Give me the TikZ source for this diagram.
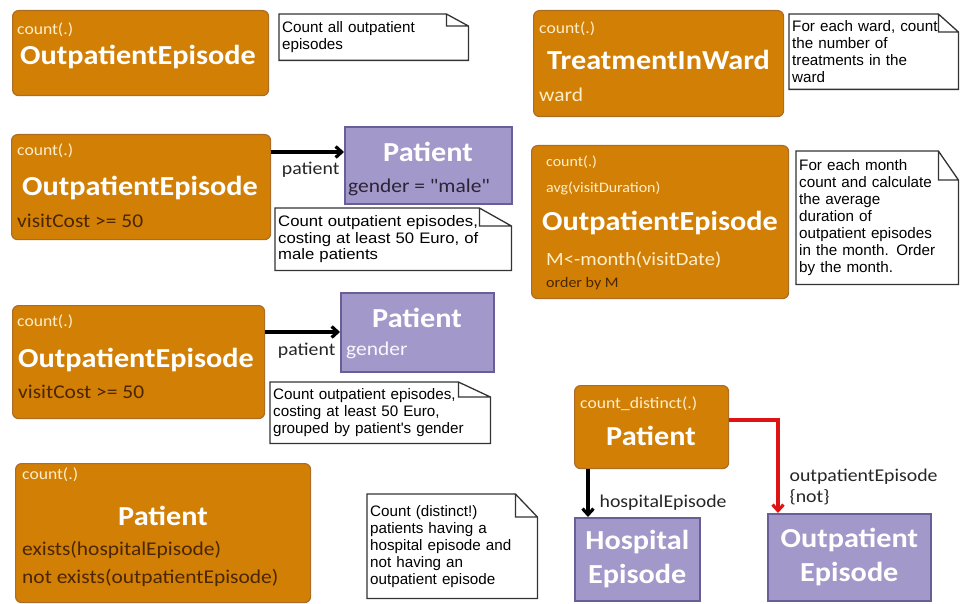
\documentclass[tikz,border=0pt]{standalone}
\usepackage{fontspec}
\usetikzlibrary{arrows.meta,positioning}
\newfontfamily\boxfont[FakeStretch=1.1]{Carlito}
\newfontfamily\notefont{Liberation Sans}
\newfontfamily\notefontwide[FakeStretch=1.1]{Liberation Sans}
\definecolor{qfill}{RGB}{210,127,6}
\definecolor{qline}{RGB}{172,108,38}
\definecolor{qhead}{RGB}{255,238,200}
\definecolor{qtext}{RGB}{75,38,0}
\definecolor{cfill}{RGB}{162,153,202}
\definecolor{cline}{RGB}{104,94,152}
\definecolor{ctext}{RGB}{45,35,55}
\definecolor{negred}{RGB}{222,20,20}
\tikzset{
  qbox/.style={draw=qline, fill=qfill, line width=1.2pt, rounded corners=6pt, anchor=north west, inner sep=0pt},
  cbox/.style={draw=cline, fill=cfill, line width=1.6pt, anchor=north west, inner sep=0pt, align=center, text=white, font=\boxfont\bfseries\fontsize{27.5}{34}\selectfont},
  hdr/.style={anchor=base west, inner sep=0pt, text=qhead, font=\boxfont\fontsize{16}{19}\selectfont},
  ttl/.style={anchor=base west, inner sep=0pt, text=white, font=\boxfont\bfseries\fontsize{27.5}{33}\selectfont},
  attr/.style={anchor=base west, inner sep=0pt, text=qtext, font=\boxfont\fontsize{19.5}{23}\selectfont},
  role/.style={inner sep=0pt, text=black!85, font=\boxfont\fontsize{18}{21}\selectfont},
  note/.style={anchor=north west, inner xsep=3pt, inner ysep=0pt, align=left, font=\notefont\fontsize{15.2}{17}\selectfont},
  notebox/.style={draw=black!80, line width=1.3pt},
  assoc/.style={line width=3.2pt, -{Straight Barb[length=6pt,width=11pt]}}
}
\begin{document}
\begin{tikzpicture}[x=1pt,y=-1pt]
  \useasboundingbox (0,0) rectangle (968,604);

  % Consulta 1: todos los episodios
  \node[qbox, minimum width=256pt, minimum height=85pt] (q1) at (12,10) {};
  \node[hdr] (q1h) at (17,35) {count(.)};
  \node[ttl] (q1t) at (20,65) {OutpatientEpisode};
  \node[note, text width=183pt, minimum height=46pt] (n1) at (279,14) {Count all outpatient\\episodes};

  % Consulta 2: por sala
  \node[qbox, minimum width=250pt, minimum height=106pt] (q2) at (533,10) {};
  \node[hdr] (q2h) at (539,34) {count(.)};
  \node[ttl] (q2t) at (547,70) {TreatmentInWard};
  \node[attr, text=qhead] (q2a) at (539,102) {ward};
  \node[note, text width=163pt, minimum height=75pt] (n2) at (789,14) {For each ward, count\\the number of\\treatments in the\\ward};

  % Consulta 3: pacientes varones
  \node[qbox, minimum width=259pt, minimum height=105pt] (q3) at (11,134) {};
  \node[hdr] (q3h) at (17,156) {count(.)};
  \node[ttl] (q3t) at (22,195) {OutpatientEpisode};
  \node[attr] (q3a) at (17,227) {visitCost >= 50};
  \node[cbox, minimum width=167pt, minimum height=77pt] (p3) at (344,126) {};
  \node[ttl, anchor=base] (p3t) at (428,162) {Patient};
  \node[attr, text=ctext] (p3a) at (348,192) {gender = "male"};
  \draw[assoc] ([yshift=-18pt]q3.north east) -- ([yshift=-18pt]q3.north east -| p3.west)
    node[role, pos=1, anchor=base east, xshift=-3pt, yshift=-23pt] (r3) {patient};
  \node[note, font=\notefontwide\fontsize{15.2}{16.5}\selectfont, text width=230pt, minimum height=62pt] (n3) at (275,208) {Count outpatient episodes,\\costing at least 50 Euro, of\\male patients};

  % Consulta 4: por mes
  \node[qbox, minimum width=257pt, minimum height=153pt] (q4) at (531,145) {};
  \node[hdr, font=\boxfont\fontsize{14.5}{17}\selectfont] (q4h) at (546,167) {count(.)};
  \node[hdr, font=\boxfont\fontsize{14.5}{17}\selectfont] (q4g) at (546,193) {avg(visitDuration)};
  \node[ttl] (q4t) at (542,230) {OutpatientEpisode};
  \node[attr, text=qhead, font=\boxfont\fontsize{18.7}{22}\selectfont] (q4a) at (546,265) {M<-month(visitDate)};
  \node[attr, font=\boxfont\fontsize{14.6}{17}\selectfont] (q4o) at (546,287) {order by M};
  \node[note, text width=156pt, minimum height=133pt] (n4) at (796,151) {For each month\\count and calculate\\the average\\duration of\\outpatient episodes\\in the month. Order\\by the month.};

  % Consulta 5: agrupado por genero
  \node[qbox, minimum width=252pt, minimum height=113pt] (q5) at (12,305) {};
  \node[hdr] (q5h) at (17,326) {count(.)};
  \node[ttl] (q5t) at (18,367) {OutpatientEpisode};
  \node[attr] (q5a) at (18,398) {visitCost >= 50};
  \node[cbox, minimum width=153pt, minimum height=79pt] (p5) at (340,292) {};
  \node[ttl, anchor=base] (p5t) at (417,327) {Patient};
  \node[attr, text=white!92!cfill] (p5a) at (346,355) {gender};
  \draw[assoc] ([yshift=-27pt]q5.north east) -- ([yshift=-27pt]q5.north east -| p5.west)
    node[role, pos=1, anchor=base east, xshift=-3pt, yshift=-23pt] (r5) {patient};
  \node[note, text width=214pt, minimum height=61pt] (n5) at (270,382) {Count outpatient episodes,\\costing at least 50 Euro,\\grouped by patient's gender};

  % Consulta 6: existe / no existe
  \node[qbox, minimum width=295pt, minimum height=139pt] (q6) at (15,463) {};
  \node[hdr] (q6h) at (22,479) {count(.)};
  \node[ttl, anchor=base] (q6t) at (163,525) {Patient};
  \node[attr] (q6a) at (22,555) {exists(hospitalEpisode)};
  \node[attr] (q6b) at (22,583) {not exists(outpatientEpisode)};
  \node[note, text width=164pt, minimum height=104pt] (n6) at (367,494) {Count (distinct!)\\patients having a\\hospital episode and\\not having an\\outpatient episode};

  % Consulta 7: version grafica
  \node[qbox, minimum width=154pt, minimum height=83pt] (q7) at (574,385) {};
  \node[hdr] (q7h) at (580,408) {count\_distinct(.)};
  \node[ttl, anchor=base] (q7t) at (651,445) {Patient};
  \node[cbox, minimum width=125pt, minimum height=83pt] (he) at (574,517) {Hospital\\Episode};
  \node[cbox, minimum width=163pt, minimum height=87pt] (oe) at (767,513) {Outpatient\\Episode};
  \draw[assoc] ([xshift=14pt]q7.south west) -- ([xshift=14pt]q7.south west |- he.north)
    node[role, pos=1, anchor=base west, xshift=10pt, yshift=10pt] (r7) {hospitalEpisode};
  \draw[assoc, draw=negred] ([yshift=-35pt]q7.north east) -| ([xshift=11pt]oe.north west)
    node[role, pos=1, anchor=north west, align=left, xshift=10pt, yshift=46pt] (r8) {outpatientEpisode\\\{not\}};

  % Notas con esquina doblada
  \foreach \n/\fw/\fh in {n1/22/12, n2/20/18, n3/32/18, n4/20/29, n5/32/15, n6/22/23}
    \draw[notebox] (\n.north west) -- ([xshift=-\fw*1pt]\n.north east) -- ([yshift=-\fh*1pt]\n.north east)
      -- (\n.south east) -- (\n.south west) -- cycle
      ([xshift=-\fw*1pt]\n.north east) |- ([yshift=-\fh*1pt]\n.north east);
\end{tikzpicture}
\end{document}
